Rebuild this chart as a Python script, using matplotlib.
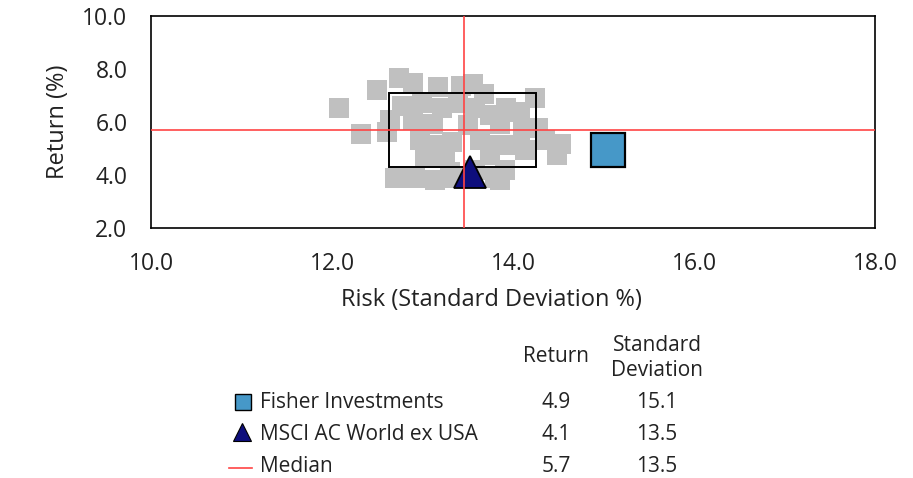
import matplotlib
matplotlib.use("Agg")
import matplotlib.pyplot as plt
from matplotlib.patches import Rectangle
from matplotlib.lines import Line2D

plt.rcParams['font.family'] = ['Open Sans', 'DejaVu Sans']

# Peer universe (risk, return)
peer_risk = [12.08, 12.50, 12.74, 12.90, 13.17, 13.43, 13.56, 13.68, 14.24, 13.92,
             12.64, 12.32, 12.61, 14.11, 14.28, 14.53, 14.49, 12.70, 12.92, 13.14,
             13.30, 13.80, 13.91, 12.77, 12.99, 13.22, 13.39, 13.58, 13.75, 12.90,
             13.12, 13.50, 13.86, 14.08, 12.97, 13.19, 13.33, 13.64, 13.86, 14.08,
             13.03, 13.25, 13.75, 14.13, 14.35, 13.36, 13.86, 13.58]
peer_return = [6.53, 7.21, 7.66, 7.47, 7.32, 7.36, 7.43, 7.06, 6.91, 6.53,
               6.08, 5.55, 5.62, 5.77, 5.77, 5.17, 4.75, 3.89, 3.89, 3.81,
               4.11, 3.89, 4.19, 6.60, 6.72, 6.53, 6.72, 6.53, 6.26, 6.08,
               5.92, 5.89, 5.92, 6.38, 5.32, 5.13, 5.25, 5.32, 5.13, 5.13,
               4.64, 4.64, 4.75, 4.94, 5.32, 3.89, 3.81, 4.19]

# Interquartile box of the universe
iqr_risk = (12.63, 14.25)
iqr_return = (4.30, 7.09)

series_names = ["Fisher Investments", "MSCI AC World ex USA", "Median"]
series_return = [4.94, 4.11, 5.68]
series_risk = [15.05, 13.52, 13.46]

x_ticks = [10.0, 12.0, 14.0, 16.0, 18.0]
y_ticks = [2.0, 4.0, 6.0, 8.0, 10.0]

GRAY = "#C0C0C0"
BLUE = "#4698C8"
NAVY = "#0E0E7C"
RED = "#FF4444"
TICK_GRAY = "#C8CCD0"
TEXT = "#222222"

W, H = 913, 478
fig = plt.figure(figsize=(W / 100, H / 100), dpi=100)
ax = fig.add_axes([151 / W, 1 - 228 / H, (875 - 151) / W, (228 - 16) / H])

ax.set_xlim(x_ticks[0], x_ticks[-1])
ax.set_ylim(y_ticks[0], y_ticks[-1])

ax.plot(peer_risk, peer_return, linestyle="none", marker="s", markersize=14.4,
        markerfacecolor=GRAY, markeredgewidth=0, zorder=2)

ax.add_patch(Rectangle((iqr_risk[0], iqr_return[0]), iqr_risk[1] - iqr_risk[0],
                       iqr_return[1] - iqr_return[0], fill=False,
                       edgecolor="black", linewidth=1.4, zorder=3))

ax.plot([series_risk[1]], [series_return[1]], linestyle="none", marker="^",
        markersize=22.5, markerfacecolor=NAVY, markeredgecolor="black",
        markeredgewidth=1.3, zorder=4)
ax.plot([series_risk[0]], [series_return[0]], linestyle="none", marker="s",
        markersize=24, markerfacecolor=BLUE, markeredgecolor="black",
        markeredgewidth=1.6, zorder=4)

ax.axvline(series_risk[2], color=RED, linewidth=1.2, zorder=5)
ax.axhline(series_return[2], color=RED, linewidth=1.2, zorder=5)

for s in ax.spines.values():
    s.set_linewidth(1.2)
    s.set_color("black")

ax.set_xticks(x_ticks)
ax.set_xticklabels([f"{v:.1f}" for v in x_ticks])
ax.set_yticks(y_ticks)
ax.set_yticklabels([f"{v:.1f}" for v in y_ticks])
ax.set_xticks(x_ticks[1:-1], minor=True)
ax.set_yticks(y_ticks[1:-1], minor=True)
ax.tick_params(which="major", length=0, labelsize=16.5, labelcolor=TEXT)
ax.tick_params(axis="x", which="major", pad=17)
ax.tick_params(axis="y", which="major", pad=17)
ax.tick_params(which="minor", length=7, width=2.2, color=TICK_GRAY, direction="out")

ax.set_xlabel("Risk (Standard Deviation %)", fontsize=17, color=TEXT)
ax.xaxis.set_label_coords(0.47, -0.285)
ax.set_ylabel("Return (%)", fontsize=17, color=TEXT, labelpad=9)

# Legend table below the chart
tab = fig.add_axes([0, 0, 1, 1])
tab.set_xlim(0, W)
tab.set_ylim(H, 0)
tab.axis("off")

fs = 15
tab.text(556, 357, "Return", ha="center", va="center", fontsize=fs, color=TEXT)
tab.text(657, 358, "Standard\nDeviation", ha="center", va="center", fontsize=fs,
         color=TEXT, linespacing=1.2)

row_y = [402, 434, 466]
tab.add_line(Line2D([243], [row_y[0]], linestyle="none", marker="s", markersize=12,
                    markerfacecolor=BLUE, markeredgecolor="black", markeredgewidth=1.0))
tab.add_line(Line2D([242], [row_y[1] - 2], linestyle="none", marker="^", markersize=13,
                    markerfacecolor=NAVY, markeredgecolor="black", markeredgewidth=0.8))
tab.add_line(Line2D([229, 252], [row_y[2] + 2, row_y[2] + 2], color=RED, linewidth=1.2))

for name, ret, risk, y in zip(series_names, series_return, series_risk, row_y):
    tab.text(260, y, name, ha="left", va="center", fontsize=fs, color=TEXT)
    tab.text(556, y, f"{ret:.1f}", ha="center", va="center", fontsize=fs, color=TEXT)
    tab.text(657, y, f"{risk:.1f}", ha="center", va="center", fontsize=fs, color=TEXT)

fig.savefig("out.png", dpi=100)
